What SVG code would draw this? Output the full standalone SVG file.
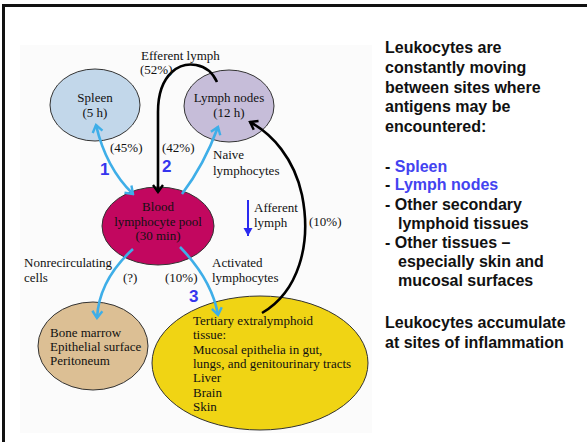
<svg xmlns="http://www.w3.org/2000/svg" width="587" height="442" viewBox="0 0 587 442">
<style>
.n{stroke:#333;stroke-width:1}
.t{font-family:"Liberation Serif","Times New Roman",serif;font-size:13px;fill:#111}
.c{text-anchor:middle}
.num{font-family:"Liberation Sans",Arial,sans-serif;font-weight:bold;font-size:17px;fill:#3535ee}
.r{font-family:"Liberation Sans",Arial,sans-serif;font-weight:bold;font-size:16px;fill:#111}
.b{fill:#4343f0}
.blue{fill:none;stroke:#3eaee8;stroke-width:2.6}
.blk{fill:none;stroke:#000;stroke-width:2.6}
</style>
<defs>
<marker id="ab" viewBox="-10 -8 12 16" markerWidth="12" markerHeight="16" refX="0" refY="0" orient="auto-start-reverse" markerUnits="userSpaceOnUse">
<path d="M-7,-5 L0,0 L-7,5" fill="none" stroke="#3eaee8" stroke-width="2.4"/>
</marker>
<marker id="ak" viewBox="-10 -8 12 16" markerWidth="12" markerHeight="16" refX="0" refY="0" orient="auto-start-reverse" markerUnits="userSpaceOnUse">
<path d="M-7,-5 L0,0 L-7,5" fill="none" stroke="#000" stroke-width="2.4"/>
</marker>
<marker id="av" viewBox="-10 -8 12 16" markerWidth="12" markerHeight="16" refX="0" refY="0" orient="auto" markerUnits="userSpaceOnUse">
<path d="M-8,-4.5 L0,0 L-8,4.5 Z" fill="#2a2af0"/>
</marker>
</defs>
<rect x="0" y="0" width="587" height="442" fill="#fff"/>
<rect x="20" y="45" width="352" height="388" fill="#fbfbfb"/>
<rect x="2" y="4" width="585" height="3" fill="#111"/>
<rect x="2" y="4" width="3" height="438" fill="#111"/>

<g id="spleen">
<ellipse class="n" cx="95" cy="105" rx="45" ry="36" fill="#c2d7ea"/>
<text class="t c" x="95" y="102">Spleen</text>
<text class="t c" x="95" y="117">(5 h)</text>
</g>
<g id="lymph-nodes">
<ellipse class="n" cx="229" cy="106" rx="45" ry="36" fill="#c6bdd9"/>
<text class="t c" x="229" y="102">Lymph nodes</text>
<text class="t c" x="229" y="117">(12 h)</text>
</g>
<g id="blood">
<ellipse class="n" cx="158" cy="226" rx="56" ry="39" fill="#c2075f"/>
<text class="t c" x="158" y="211">Blood</text>
<text class="t c" x="158" y="226">lymphocyte pool</text>
<text class="t c" x="158" y="240">(30 min)</text>
</g>
<g id="bone-marrow">
<ellipse class="n" cx="93" cy="346" rx="55" ry="44" fill="#dcbf94"/>
<text class="t" x="50" y="337">Bone marrow</text>
<text class="t" x="50" y="351">Epithelial surface</text>
<text class="t" x="50" y="365">Peritoneum</text>
</g>
<g id="tertiary">
<ellipse class="n" cx="260" cy="363" rx="108" ry="67" fill="#f0d414"/>
<text class="t" x="193" y="325">Tertiary extralymphoid</text>
<text class="t" x="193" y="339">tissue:</text>
<text class="t" x="193" y="354">Mucosal epithelia in gut,</text>
<text class="t" x="193" y="368">lungs, and genitourinary tracts</text>
<text class="t" x="193" y="382">Liver</text>
<text class="t" x="193" y="397">Brain</text>
<text class="t" x="193" y="411">Skin</text>
</g>

<g id="connectors">
<path class="blue" d="M96,125 Q106,168 133,194" marker-start="url(#ab)" marker-end="url(#ab)"/>
<path class="blue" d="M182,194 Q204,165 218,127" marker-end="url(#ab)"/>
<path class="blue" d="M133,249 Q99,280 97,318" marker-end="url(#ab)"/>
<path class="blue" d="M180,247 Q212,280 218,315" marker-end="url(#ab)"/>
<path class="blk" d="M217,82 C208,62 185,60 172,72 C161,82 158,96 158,112 L158,192" marker-end="url(#ak)"/>
<path class="blk" d="M262,313 C298,292 312,245 302,195 C294,158 272,134 250,122" marker-end="url(#ak)"/>
<path d="M248,200 L248,236" stroke="#2a2af0" stroke-width="2" marker-end="url(#av)"/>
</g>

<g id="labels">
<text class="t" x="141" y="60">Efferent lymph</text>
<text class="t" x="140" y="74">(52%)</text>
<text class="t" x="110" y="152">(45%)</text>
<text class="t" x="162" y="152">(42%)</text>
<text class="t" x="213" y="159">Naive</text>
<text class="t" x="213" y="175">lymphocytes</text>
<text class="t" x="254" y="212">Afferent</text>
<text class="t" x="254" y="227">lymph</text>
<text class="t" x="309" y="226">(10%)</text>
<text class="t" x="24" y="267">Nonrecirculating</text>
<text class="t" x="24" y="282">cells</text>
<text class="t" x="123" y="282">(?)</text>
<text class="t" x="165" y="282">(10%)</text>
<text class="t" x="212" y="267">Activated</text>
<text class="t" x="212" y="282">lymphocytes</text>
<text class="num" x="100" y="175">1</text>
<text class="num" x="162" y="172">2</text>
<text class="num" x="189" y="302">3</text>
</g>

<g id="side-text">
<text class="r" x="385" y="53">Leukocytes are</text>
<text class="r" x="385" y="73">constantly moving</text>
<text class="r" x="385" y="93">between sites where</text>
<text class="r" x="385" y="112">antigens may be</text>
<text class="r" x="385" y="132">encountered:</text>
<text class="r" x="385" y="172">- <tspan class="b">Spleen</tspan></text>
<text class="r" x="385" y="190">- <tspan class="b">Lymph nodes</tspan></text>
<text class="r" x="385" y="210">- Other secondary</text>
<text class="r" x="398" y="229">lymphoid tissues</text>
<text class="r" x="385" y="248">- Other tissues –</text>
<text class="r" x="398" y="267">especially skin and</text>
<text class="r" x="398" y="286">mucosal surfaces</text>
<text class="r" x="385" y="328">Leukocytes accumulate</text>
<text class="r" x="385" y="348">at sites of inflammation</text>
</g>
</svg>
